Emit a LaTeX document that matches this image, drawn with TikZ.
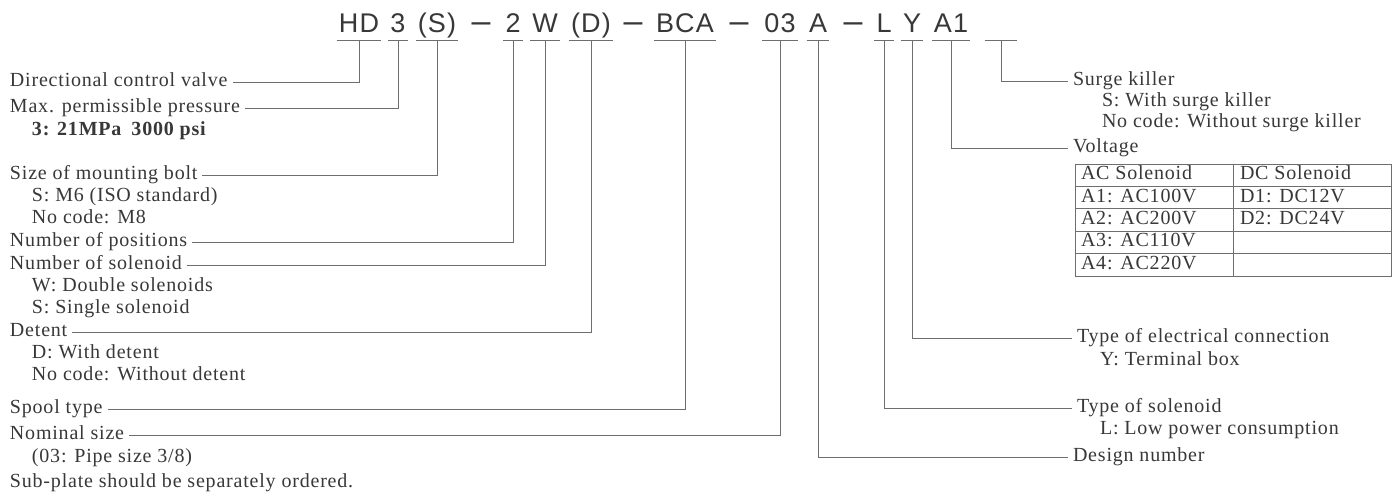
\documentclass[tikz,border=0pt]{standalone}
\usepackage{fontspec}
\setmainfont[LetterSpace=4]{Liberation Serif}
\setsansfont[LetterSpace=4]{Liberation Sans}
\definecolor{ink}{HTML}{383838}
\definecolor{rulegray}{HTML}{6E6E6E}
\tikzset{
  code/.style={font=\sffamily\fontsize{13.5}{14}\selectfont, text=ink, inner xsep=1pt,
    inner ysep=3.5pt, text height=10pt, text depth=0pt, anchor=base},
  dashsym/.style={code, font=\sffamily\fontsize{17}{17}\selectfont},
  lbl/.style={font=\fontsize{10}{11}\selectfont, text=ink, inner sep=0pt, outer xsep=2.5pt,
    text height=4.6pt, text depth=0pt, anchor=west},
  sub/.style={lbl, outer xsep=0pt},
  lead/.style={draw=rulegray, line width=0.45pt},
  cell/.style={sub}
}
\begin{document}
\begin{tikzpicture}[x=0.5pt, y=-0.5pt]
  \useasboundingbox[fill=white] (0,0) rectangle (1400,501);
  % model code
  \foreach \nm/\x/\t in {hd/359/HD, p3/398/3, sz/437/(S), pos/513/2, sol/545/W, det/591/(D),
      spool/685/BCA, nom/780/03, des/818/A, typ/884/L, conn/912/Y, volt/951/A1} {
    \node[code] (\nm) at (\x,33) {\t};
    \draw[lead] (\nm.south west) -- (\nm.south east);
  }
  \node[code, minimum width=16pt] (surge) at (1001,33) {};
  \draw[lead] (surge.south west) -- (surge.south east);
  \foreach \x [count=\i] in {481,633,739,853}
    \node[dashsym] (dash\i) at (\x,33) {--};
  % left side
  \node[lbl] (ldcv) at (5,82) {Directional control valve};
  \node[lbl] (lmax) at (5,108) {Max. permissible pressure};
  \node[sub] (lmax1) at (32,131) {\bfseries 3: 21MPa\enspace 3000 psi};
  \node[lbl] (lbolt) at (5,175) {Size of mounting bolt};
  \node[sub] (lbolt1) at (32,197) {S: M6 (ISO standard)};
  \node[sub] (lbolt2) at (32,219) {No code: M8};
  \node[lbl] (lpos) at (5,242) {Number of positions};
  \node[lbl] (lsol) at (5,265) {Number of solenoid};
  \node[sub] (lsol1) at (32,287) {W: Double solenoids};
  \node[sub] (lsol2) at (32,309) {S: Single solenoid};
  \node[lbl] (ldet) at (5,332) {Detent};
  \node[sub] (ldet1) at (32,354) {D: With detent};
  \node[sub] (ldet2) at (32,376) {No code: Without detent};
  \node[lbl] (lspool) at (5,409) {Spool type};
  \node[lbl] (lnom) at (5,435) {Nominal size};
  \node[sub] (lnom1) at (32,458) {(03: Pipe size 3/8)};
  \node[sub] (lnote) at (10,483) {Sub-plate should be separately ordered.};
  \draw[lead] (ldcv.east) -| (hd.south);
  \draw[lead] (lmax.east) -| (p3.south);
  \draw[lead] (lbolt.east) -| (sz.south);
  \draw[lead] (lpos.east) -| (pos.south);
  \draw[lead] (lsol.east) -| (sol.south);
  \draw[lead] (ldet.east) -| (det.south);
  \draw[lead] (lspool.east) -| (spool.south);
  \draw[lead] (lnom.east) -| (nom.south);
  % right side
  \node[lbl] (lsurge) at (1068,81) {Surge killer};
  \node[sub] (lsurge1) at (1102,102) {S: With surge killer};
  \node[sub] (lsurge2) at (1102,123) {No code: Without surge killer};
  \node[lbl] (lvolt) at (1068,148) {Voltage};
  \node[lbl] (lconn) at (1072,338) {Type of electrical connection};
  \node[sub] (lconn1) at (1100,361) {Y: Terminal box};
  \node[lbl] (ltyp) at (1072,408) {Type of solenoid};
  \node[sub] (ltyp1) at (1100,430) {L: Low power consumption};
  \node[lbl] (ldes) at (1068,457) {Design number};
  \draw[lead] (surge.south) |- (lsurge.west);
  \draw[lead] (volt.south) |- (lvolt.west);
  \draw[lead] (conn.south) |- (lconn.west);
  \draw[lead] (typ.south) |- (ltyp.west);
  \draw[lead] (des.south) |- (ldes.west);
  % voltage table
  \draw[lead] (1075,164) rectangle (1391,276);
  \draw[lead] (1233,164) -- (1233,276);
  \foreach \y in {186.4,208.8,231.2,253.6}
    \draw[lead] (1075,\y) -- (1391,\y);
  \foreach \ac/\dc [count=\i] in {AC Solenoid/DC Solenoid, A1: AC100V/D1: DC12V,
      A2: AC200V/D2: DC24V, A3: AC110V/, A4: AC220V/} {
    \node[cell] (ac\i) at (1081,152.8+22.4*\i) {\ac};
    \node[cell] (dc\i) at (1240,152.8+22.4*\i) {\dc};
  }
\end{tikzpicture}
\end{document}
